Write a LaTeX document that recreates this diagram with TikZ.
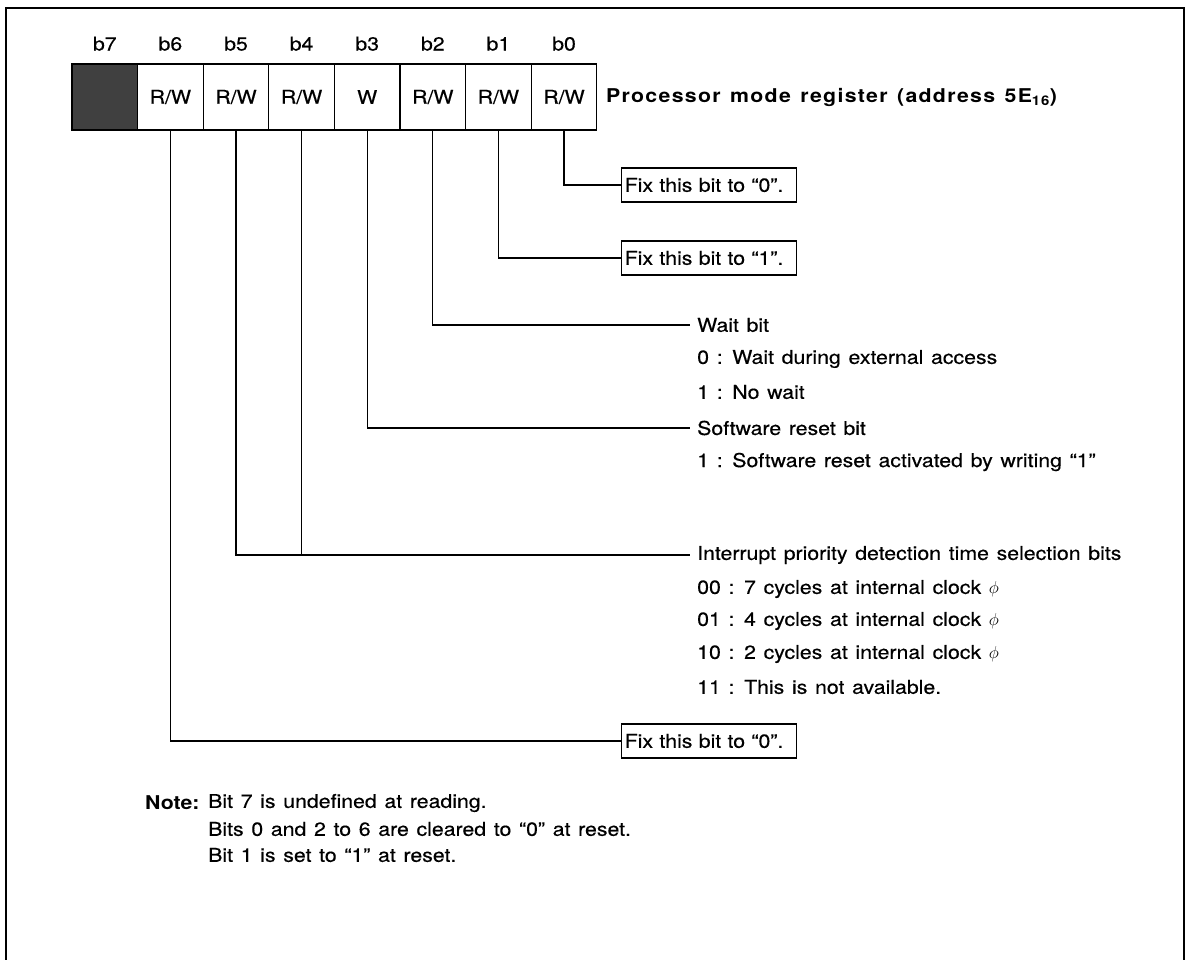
\documentclass[tikz,border=0pt]{standalone}
\usepackage{fontspec}
\setmainfont{TeX Gyre Heros}[FakeStretch=1.12, WordSpace=1.3,
  UprightFeatures={FakeBold=0.4}]
\usetikzlibrary{positioning}

\begin{document}
\begin{tikzpicture}[
    x=1pt, y=-1pt,
    every node/.style={font=\fontsize{19}{23}\selectfont},
    cell/.style={draw, line width=1.3pt, minimum width=65.6pt, minimum height=66pt,
                 inner sep=0pt, outer sep=0pt},
    bitno/.style={inner sep=0pt},
    fixbox/.style={draw, line width=1.4pt, text width=169pt, minimum height=34pt,
                   inner xsep=3pt, inner ysep=0pt, align=left, anchor=west},
    head/.style={anchor=west, inner xsep=7pt, inner ysep=0pt},
    desc/.style={anchor=west, inner sep=0pt},
    wire/.style={line width=1.1pt},
  ]
  \useasboundingbox (0,0) rectangle (1190,960);
  % open frame
  \draw[line width=1.5pt] (6,960) -- (6,8) -- (1184,8) -- (1184,960);

  % register cells
  \node[cell, fill=black!75, anchor=north west] (c7) at (72,64) {};
  \node[cell, right=0pt of c7] (c6) {R/W};
  \node[cell, right=0pt of c6] (c5) {R/W};
  \node[cell, right=0pt of c5] (c4) {R/W};
  \node[cell, right=0pt of c4] (c3) {W};
  \node[cell, right=0pt of c3] (c2) {R/W};
  \node[cell, right=0pt of c2] (c1) {R/W};
  \node[cell, right=0pt of c1] (c0) {R/W};
  \node[bitno, above=13pt of c7] {b7};
  \node[bitno, above=13pt of c6] {b6};
  \node[bitno, above=13pt of c5] {b5};
  \node[bitno, above=13pt of c4] {b4};
  \node[bitno, above=13pt of c3] {b3};
  \node[bitno, above=13pt of c2] {b2};
  \node[bitno, above=13pt of c1] {b1};
  \node[bitno, above=13pt of c0] {b0};
  \node[anchor=west, inner sep=0pt, right=9pt of c0,
        font=\fontsize{19}{23}\selectfont\bfseries\addfontfeatures{LetterSpace=7}] (title)
    {Processor mode register (address 5E\textsubscript{16})};

  % bit descriptions
  \node[fixbox] (fix0) at (621,185) {Fix this bit to “0”.};
  \node[fixbox] (fix1) at (621,258) {Fix this bit to “1”.};

  \node[head] (wait) at (690,325) {Wait bit};
  \node[desc] (wait0) at (697,359) {0 : Wait during external access};
  \node[desc] (wait1) at (697,392) {1 : No wait};

  \node[head] (srst) at (690,428) {Software reset bit};
  \node[desc] (srst1) at (697,462) {1 : Software reset activated by writing “1”};

  \node[head] (irq) at (690,555) {Interrupt priority detection time selection bits};
  \node[desc] (irq0) at (697,589) {00 : 7 cycles at internal clock $\phi$};
  \node[desc] (irq1) at (697,621) {01 : 4 cycles at internal clock $\phi$};
  \node[desc] (irq2) at (697,654) {10 : 2 cycles at internal clock $\phi$};
  \node[desc] (irq3) at (697,687) {11 : This is not available.};

  \node[fixbox] (fix6) at (621,741) {Fix this bit to “0”.};

  \draw[wire] (c0.south) |- (fix0.west);
  \draw[wire] (c1.south) |- (fix1.west);
  \draw[wire] (c2.south) |- (wait.west);
  \draw[wire] (c3.south) |- (srst.west);
  \draw[wire] (c5.south) |- (irq.west);
  \draw[wire] (c4.south) -- (c4.south |- irq.west);
  \draw[wire] (c6.south) |- (fix6.west);

  % note
  \node[desc, font=\fontsize{19}{23}\selectfont\bfseries] (note) at (145,803) {Note:};
  \node[desc] (note1) at (208,803) {Bit 7 is undefined at reading.};
  \node[desc] (note2) at (208,829) {Bits 0 and 2 to 6 are cleared to “0” at reset.};
  \node[desc] (note3) at (208,855) {Bit 1 is set to “1” at reset.};
\end{tikzpicture}
\end{document}
